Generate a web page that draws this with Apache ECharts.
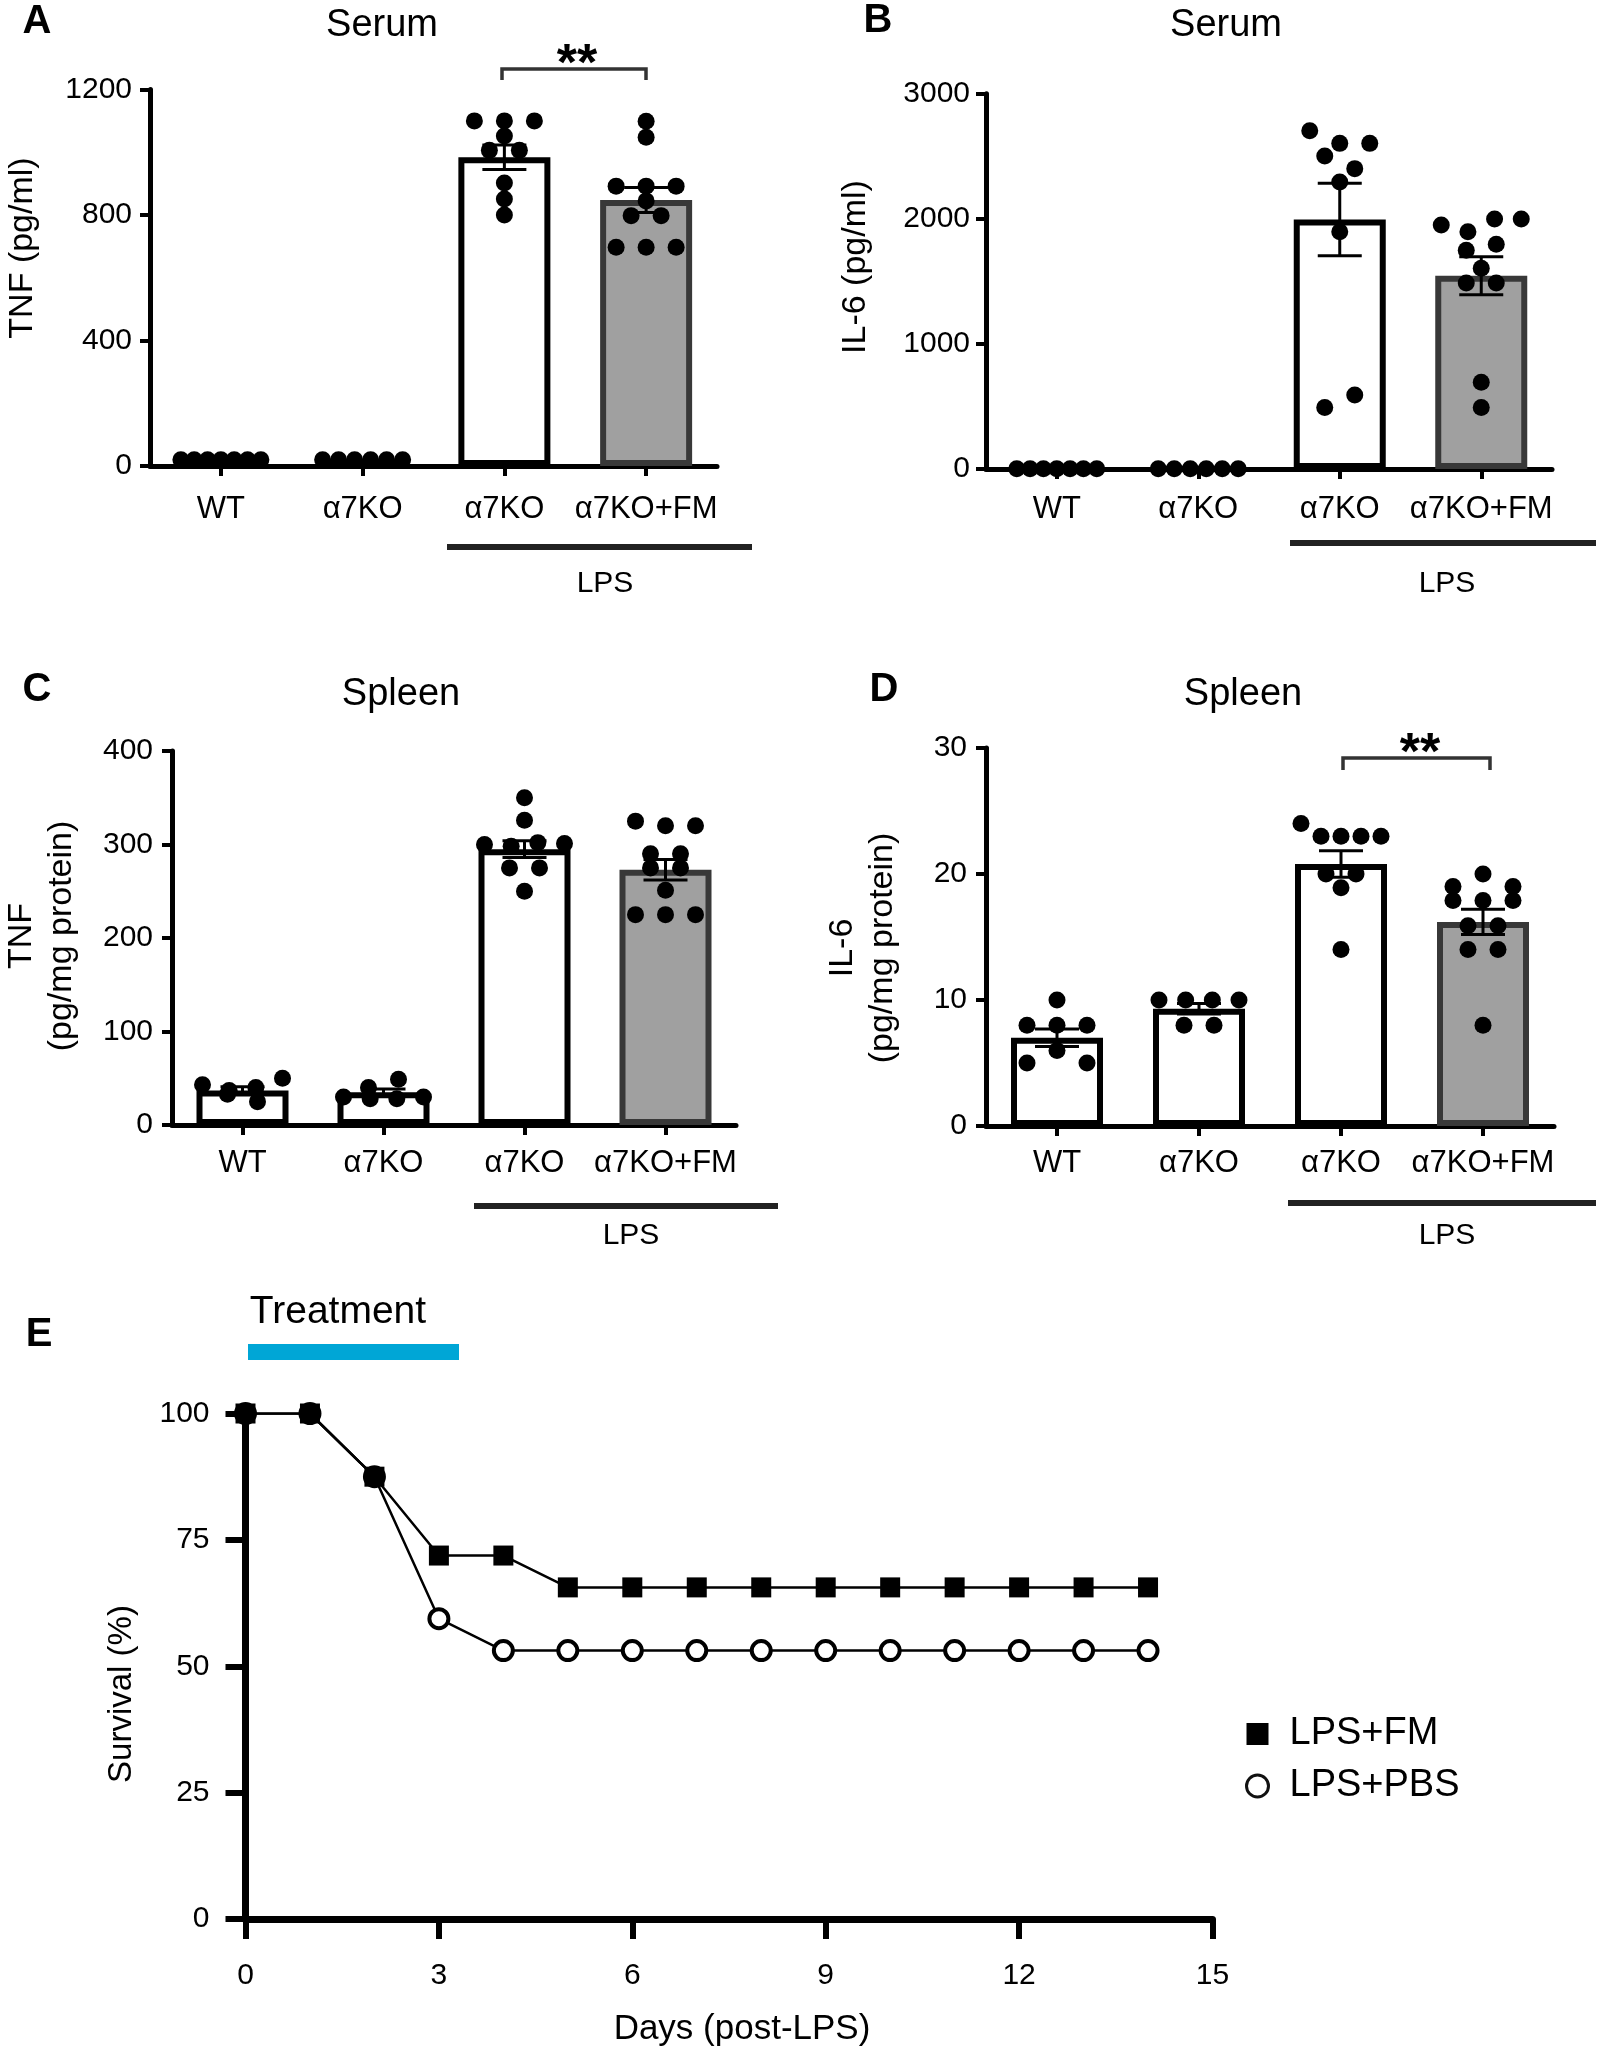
<!DOCTYPE html>
<html>
<head>
<meta charset="utf-8">
<script src="https://cdn.jsdelivr.net/npm/echarts@6/dist/echarts.min.js"></script>
<style>
  html, body { margin: 0; padding: 0; background: #fff; }
  #chart { width: 1600px; height: 2050px; }
</style>
</head>
<body>
<div id="chart"></div>
<script>
var groups = ['WT', 'α7KO', 'α7KO', 'α7KO+FM'];

// A - serum TNF (pg/ml)
var serumTnfMean = [20, 20, 984, 848];
var serumTnfSem = [0, 0, 39, 40];
var serumTnfDots = [
  [20, 20, 20, 20, 20, 20, 20],
  [20, 20, 20, 20, 20, 20],
  [1100, 1100, 1100, 1052, 1006, 1006, 902, 851, 800],
  [1099, 1048, 892, 892, 892, 845, 798, 798, 697, 697, 697]
];

// B - serum IL-6 (pg/ml)
var serumIl6Mean = [2, 2, 1995, 1545];
var serumIl6Sem = [0, 0, 290, 152];
var serumIl6Dots = [
  [2, 2, 2, 2, 2, 2, 2],
  [2, 2, 2, 2, 2, 2],
  [2704, 2603, 2603, 2502, 2401, 2294, 1897, 491, 592],
  [1951, 1897, 1998, 1998, 1749, 1796, 1604, 1487, 1487, 693, 491]
];

// C - spleen TNF (pg/mg protein)
var spleenTnfMean = [37, 35, 295, 273];
var spleenTnfSem = [4, 3.5, 9, 11];
var spleenTnfDots = [
  [33, 43, 37, 40, 50, 25],
  [30, 40, 28, 49, 28, 30],
  [350, 326, 300, 298, 302, 301, 275, 275, 250],
  [325, 320, 320, 290, 290, 275, 275, 251, 225, 225, 225]
];

// D - spleen IL-6 (pg/mg protein)
var spleenIl6Mean = [7.0, 9.3, 20.8, 16.2];
var spleenIl6Sem = [0.7, 0.42, 1.05, 1.0];
var spleenIl6Dots = [
  [10, 8, 8, 8, 5, 6, 5],
  [10, 10, 10, 10, 8, 8],
  [24, 23, 23, 23, 23, 20, 20, 18.9, 14],
  [19, 20, 19, 17.9, 17.9, 17.9, 15.9, 15.9, 14, 14, 8]
];

// E - survival (%)
var days = [0, 1, 2, 3, 4, 5, 6, 7, 8, 9, 10, 11, 12, 13, 14];
var survivalFm = [100, 100, 87.5, 71.9, 71.9, 65.6, 65.6, 65.6, 65.6, 65.6, 65.6, 65.6, 65.6, 65.6, 65.6];
var survivalPbs = [100, 100, 87.5, 59.4, 53.1, 53.1, 53.1, 53.1, 53.1, 53.1, 53.1, 53.1, 53.1, 53.1, 53.1];


var FONT = '"Liberation Sans", Arial, sans-serif';
var DOT = 17;
var ROW_TOL = 13.5;   // px, dots closer than this share a row
var STEP = 30;        // px between dots in a row
var ROW_MAX = 80;     // px, widest a row may get

var panels = [
  {grid: {left: 150, top: 89.5, width: 567, height: 376.5}, max: 1200, interval: 400,
    mean: serumTnfMean, sem: serumTnfSem, dots: serumTnfDots, catMargin: 28, valMargin: 18},
  {grid: {left: 986, top: 93.7, width: 566, height: 375.3}, max: 3000, interval: 1000,
    mean: serumIl6Mean, sem: serumIl6Sem, dots: serumIl6Dots, catMargin: 25, valMargin: 16},
  {grid: {left: 172, top: 751, width: 564, height: 374}, max: 400, interval: 100,
    mean: spleenTnfMean, sem: spleenTnfSem, dots: spleenTnfDots, catMargin: 23, valMargin: 19},
  {grid: {left: 986, top: 748, width: 568, height: 378}, max: 30, interval: 10,
    mean: spleenIl6Mean, sem: spleenIl6Sem, dots: spleenIl6Dots, catMargin: 22, valMargin: 19}
];

function plain(v) { return String(v); }

// spread dots of similar value side by side, like a prism scatter column
function swarm(groupVals, yMax, plotH, catW) {
  var pxPer = plotH / yMax;
  var out = [];
  groupVals.forEach(function(vals, g) {
    var order = vals.map(function(v, i) { return i; })
      .sort(function(a, b) { return vals[b] - vals[a]; });
    var rows = [];
    order.forEach(function(i) {
      var row = rows[rows.length - 1];
      if (row && (vals[row[0]] - vals[i]) * pxPer < ROW_TOL) {
        row.push(i);
      } else {
        rows.push([i]);
      }
    });
    rows.forEach(function(row) {
      row.sort(function(a, b) { return a - b; });
      var n = row.length;
      var step = n > 1 ? Math.min(STEP, ROW_MAX / (n - 1)) : 0;
      row.forEach(function(i, k) {
        var px = (k - (n - 1) / 2) * step;
        out.push([g + px / catW, vals[i]]);
      });
    });
  });
  return out;
}

function errorBars(params, api) {
  var s = api.value(2);
  if (!s) return null;
  var m = api.value(1);
  var top = api.coord([api.value(0), m + s]);
  var bot = api.coord([api.value(0), m - s]);
  var half = 22;
  var st = {stroke: '#000', lineWidth: 3};
  return {
    type: 'group',
    children: [
      {type: 'line', shape: {x1: top[0], y1: top[1], x2: bot[0], y2: bot[1]}, style: st},
      {type: 'line', shape: {x1: top[0] - half, y1: top[1], x2: top[0] + half, y2: top[1]}, style: st},
      {type: 'line', shape: {x1: bot[0] - half, y1: bot[1], x2: bot[0] + half, y2: bot[1]}, style: st}
    ]
  };
}

var grids = [], xAxes = [], yAxes = [], series = [];

panels.forEach(function(p, k) {
  grids.push(p.grid);
  xAxes.push({
    type: 'category', gridIndex: k, data: groups,
    axisLine: {lineStyle: {color: '#000', width: 5}},
    axisTick: {show: true, alignWithLabel: true, interval: 0, length: 10, lineStyle: {color: '#000', width: 4}},
    axisLabel: {color: '#000', fontSize: 31, fontFamily: FONT, margin: p.catMargin, interval: 0, hideOverlap: false}
  });
  xAxes.push({type: 'value', gridIndex: k, min: -0.5, max: 3.5, show: false});
  yAxes.push({
    type: 'value', gridIndex: k, min: 0, max: p.max, interval: p.interval,
    axisLine: {show: true, onZero: false, lineStyle: {color: '#000', width: 5}},
    axisTick: {show: true, length: 10, lineStyle: {color: '#000', width: 4}},
    splitLine: {show: false},
    axisLabel: {color: '#000', fontSize: 30, fontFamily: FONT, margin: p.valMargin, formatter: plain}
  });

  series.push({
    type: 'bar', xAxisIndex: 2 * k, yAxisIndex: k, barWidth: 92, z: 2,
    data: p.mean.map(function(m, i) {
      var fm = i === 3;
      return {
        value: m,
        itemStyle: {
          color: fm ? '#a0a0a0' : '#fff',
          borderColor: fm ? '#383838' : '#000',
          borderWidth: 6
        }
      };
    })
  });
  series.push({
    type: 'scatter', xAxisIndex: 2 * k + 1, yAxisIndex: k, z: 3,
    symbol: 'circle', symbolSize: DOT,
    itemStyle: {color: '#000', opacity: 1},
    data: swarm(p.dots, p.max, p.grid.height, p.grid.width / groups.length)
  });
  series.push({
    type: 'custom', xAxisIndex: 2 * k, yAxisIndex: k, z: 4,
    renderItem: errorBars,
    encode: {x: 0, y: 1},
    data: p.mean.map(function(m, i) { return [i, m, p.sem[i]]; })
  });
});

// panel E
grids.push({left: 245.5, top: 1413.5, width: 967, height: 505.5});
xAxes.push({
  type: 'value', gridIndex: 4, min: 0, max: 15, interval: 3,
  axisLine: {onZero: false, lineStyle: {color: '#000', width: 7}},
  axisTick: {show: true, length: 20, lineStyle: {color: '#000', width: 6}},
  splitLine: {show: false},
  axisLabel: {color: '#000', fontSize: 30, fontFamily: FONT, margin: 42}
});
yAxes.push({
  type: 'value', gridIndex: 4, min: 0, max: 100, interval: 25,
  axisLine: {show: true, onZero: false, lineStyle: {color: '#000', width: 7}},
  axisTick: {show: true, length: 20, lineStyle: {color: '#000', width: 6}},
  splitLine: {show: false},
  axisLabel: {color: '#000', fontSize: 30, fontFamily: FONT, margin: 36}
});
series.push({
  type: 'line', name: 'LPS+PBS', xAxisIndex: 8, yAxisIndex: 4, z: 3,
  symbol: 'circle', symbolSize: 19,
  itemStyle: {color: '#fff', borderColor: '#000', borderWidth: 4},
  lineStyle: {color: '#000', width: 2.5},
  data: days.map(function(d, i) { return [d, survivalPbs[i]]; })
});
series.push({
  type: 'line', name: 'LPS+FM', xAxisIndex: 8, yAxisIndex: 4, z: 4,
  symbol: 'rect', symbolSize: 20,
  itemStyle: {color: '#000'},
  lineStyle: {color: '#000', width: 2.5},
  data: days.map(function(d, i) { return [d, survivalFm[i]]; })
});

function txt(x, y, s, size, extra) {
  extra = extra || {};
  return {
    type: 'text', x: x, y: y, rotation: extra.rotation || 0, z: 10,
    style: {
      text: s,
      font: (extra.bold ? 'bold ' : '') + size + 'px ' + FONT,
      fill: '#000',
      lineHeight: extra.lineHeight || size * 1.2,
      textAlign: 'center', textVerticalAlign: 'middle',
      align: 'center', verticalAlign: 'middle'
    }
  };
}

function hline(x1, x2, y, w, color) {
  return {type: 'line', z: 10, shape: {x1: x1, y1: y, x2: x2, y2: y},
    style: {stroke: color, lineWidth: w}};
}

function bracket(x1, x2, yTop, yEnd) {
  return {type: 'polyline', z: 10,
    shape: {points: [[x1, yEnd], [x1, yTop], [x2, yTop], [x2, yEnd]]},
    style: {stroke: '#333', lineWidth: 3.5, fill: null}};
}

var R = Math.PI / 2;
var graphics = [
  txt(37, 22, 'A', 40, {bold: true}),
  txt(878, 21, 'B', 40, {bold: true}),
  txt(37, 690, 'C', 40, {bold: true}),
  txt(884, 690, 'D', 40, {bold: true}),
  txt(39, 1335, 'E', 40, {bold: true}),

  txt(382, 26, 'Serum', 38),
  txt(1226, 26, 'Serum', 38),
  txt(401, 695, 'Spleen', 38),
  txt(1243, 695, 'Spleen', 38),

  txt(23, 248, 'TNF (pg/ml)', 34, {rotation: R}),
  txt(856, 267, 'IL-6 (pg/ml)', 34, {rotation: R}),
  txt(42, 936, 'TNF\n(pg/mg protein)', 34, {rotation: R, lineHeight: 40}),
  txt(863, 948, 'IL-6\n(pg/mg protein)', 34, {rotation: R, lineHeight: 40}),
  txt(122, 1694, 'Survival (%)', 33, {rotation: R}),
  txt(742, 2029, 'Days (post-LPS)', 35),

  hline(447, 752, 547, 6, '#222'),
  hline(1290, 1596, 543, 6, '#222'),
  hline(474, 778, 1206, 6, '#222'),
  hline(1288, 1596, 1203, 6, '#222'),
  txt(605, 584, 'LPS', 30),
  txt(1447, 584, 'LPS', 30),
  txt(631, 1236, 'LPS', 30),
  txt(1447, 1236, 'LPS', 30),

  bracket(502, 646, 69, 80),
  txt(577, 66, '**', 52, {bold: true}),
  bracket(1343, 1490, 758, 770),
  txt(1420, 755, '**', 52, {bold: true}),

  txt(338, 1312, 'Treatment', 39),
  {type: 'rect', z: 10, shape: {x: 248, y: 1344, width: 211, height: 16}, style: {fill: '#00a6d6'}}
];

var chart = echarts.init(document.getElementById('chart'));
chart.setOption({
  backgroundColor: '#fff',
  animation: false,
  textStyle: {fontFamily: FONT},
  grid: grids,
  xAxis: xAxes,
  yAxis: yAxes,
  legend: {
    orient: 'vertical', left: 1240, top: 1710,
    itemWidth: 22, itemHeight: 22, itemGap: 14,
    selectedMode: false,
    textStyle: {fontSize: 38, color: '#000', fontFamily: FONT, padding: [0, 0, 0, 16]},
    data: [
      {name: 'LPS+FM', icon: 'rect', itemStyle: {color: '#000'}},
      {name: 'LPS+PBS', icon: 'circle', itemStyle: {color: '#fff', borderColor: '#111', borderWidth: 3}}
    ]
  },
  series: series,
  graphic: graphics
});
</script>
</body>
</html>
